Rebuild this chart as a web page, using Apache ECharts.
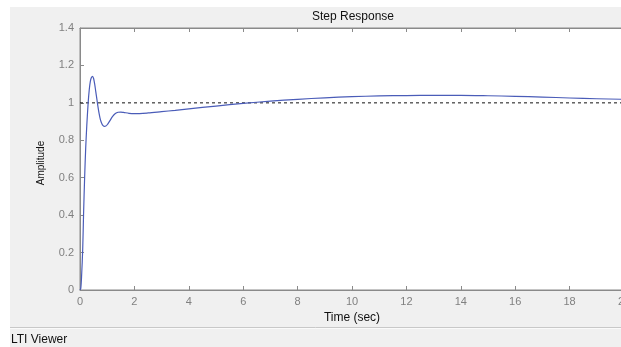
<!DOCTYPE html>
<html><head><meta charset="utf-8">
<script src="https://cdn.jsdelivr.net/npm/echarts@6/dist/echarts.min.js"></script>
<style>html,body{margin:0;padding:0;background:#fff}#c{width:621px;height:347px}</style>
</head><body><div id="c"></div>
<script>
var timeSec = [0,0.03,0.06,0.1,0.13,0.17,0.21,0.25,0.3,0.34,0.38,0.42,0.46,0.5,0.54,0.58,0.62,0.66,0.7,0.75,0.8,0.85,0.9,0.95,1.0,1.1,1.2,1.3,1.4,1.5,1.6,1.8,2.0,2.5,3,3.5,4,5,6,7,8,9,10,11,12,13,14,15,16,17,18,19,20];
var amplitude = [0,0.01,0.08,0.22,0.4,0.6,0.76,0.88,1.0,1.07,1.115,1.135,1.142,1.13,1.1,1.06,1.02,0.98,0.945,0.91,0.89,0.878,0.874,0.876,0.883,0.905,0.928,0.943,0.95,0.951,0.949,0.944,0.942,0.946,0.953,0.96,0.968,0.983,0.997,1.009,1.019,1.027,1.033,1.037,1.039,1.04,1.04,1.038,1.035,1.031,1.026,1.022,1.019];
var refTime = [0,20];
var refValue = [1,1];
var xTicks = [0,2,4,6,8,10,12,14,16,18,20];
var yTicks = [0,0.2,0.4,0.6,0.8,1,1.2,1.4];

var chart = echarts.init(document.getElementById('c'), null, {renderer:'canvas'});
var font = 'Liberation Sans, Arial, sans-serif';
chart.setOption({
  animation:false,
  backgroundColor:'#ffffff',
  graphic:[
    {type:'rect', z:-10, shape:{x:10,y:7,width:611,height:340}, style:{fill:'#f0f0f0'}},
    {type:'line', z:-5, shape:{x1:10,y1:327.5,x2:621,y2:327.5}, style:{stroke:'#c8c8c8',lineWidth:1}},
    {type:'line', z:-5, shape:{x1:10,y1:328.5,x2:621,y2:328.5}, style:{stroke:'#fafafa',lineWidth:1}},
    {type:'text', left:11, top:334, style:{text:'LTI Viewer', fill:'#111', font:'12px '+font}}
  ],
  title:{text:'Step Response', left:353, top:11, padding:0, textAlign:'center',
    textStyle:{fontSize:12, fontWeight:'normal', color:'#111', fontFamily:font}},
  grid:{left:80, top:28, width:544, bottom:57, outerBoundsMode:'none', containLabel:false,
    show:true, backgroundColor:'#ffffff', borderColor:'#8a8a8a', borderWidth:1},
  xAxis:[{
    type:'value', min:0, max:20, interval:2, position:'bottom',
    name:'Time (sec)', nameLocation:'middle', nameGap:21,
    nameTextStyle:{fontSize:12, color:'#111', fontFamily:font},
    axisLine:{lineStyle:{color:'#8a8a8a'}},
    axisTick:{inside:true, length:4, lineStyle:{color:'#8a8a8a'}},
    axisLabel:{color:'#808080', fontSize:11, fontFamily:font, margin:6},
    splitLine:{show:false}
  },{
    type:'value', min:0, max:20, interval:2, position:'top',
    axisLine:{lineStyle:{color:'#8a8a8a'}},
    axisTick:{inside:true, length:4, lineStyle:{color:'#8a8a8a'}},
    axisLabel:{show:false}, splitLine:{show:false}
  }],
  yAxis:[{
    type:'value', min:0, max:1.4, interval:0.2,
    name:'Amplitude', nameLocation:'middle', nameGap:34, nameRotate:90,
    nameTextStyle:{fontSize:10, color:'#111', fontFamily:font, padding:[0,0,0,-8]},
    axisLine:{show:true, lineStyle:{color:'#8a8a8a'}},
    axisTick:{show:true, inside:true, length:4, lineStyle:{color:'#8a8a8a'}},
    axisLabel:{color:'#808080', fontSize:11, fontFamily:font, margin:6,
      formatter:function(v){return String(+v.toFixed(1));}},
    splitLine:{show:false}
  }],
  series:[{
    type:'line', xAxisIndex:0, showSymbol:false, smooth:0.3,
    data:timeSec.map(function(t,i){return [t, amplitude[i]];}),
    lineStyle:{color:'#4a5cb8', width:1.2}, z:3
  },{
    type:'line', xAxisIndex:0, showSymbol:false,
    data:refTime.map(function(t,i){return [t, refValue[i]];}),
    lineStyle:{color:'#111', width:1, type:[3,3]}, z:2
  }]
});
</script></body></html>
